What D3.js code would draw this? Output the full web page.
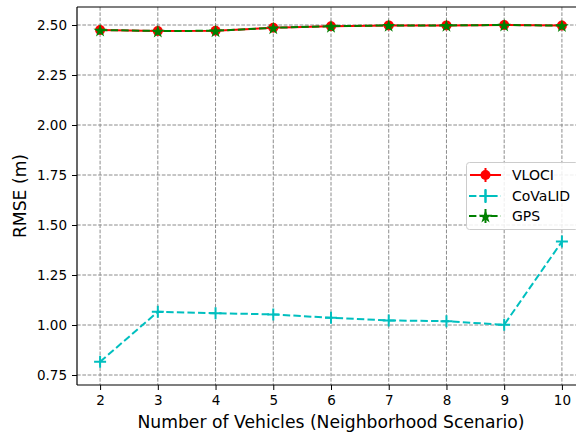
<!DOCTYPE html>
<html><head><meta charset="utf-8">
<script src="https://cdn.jsdelivr.net/npm/d3@7"></script>
<style>
html,body{margin:0;padding:0;background:#fff;overflow:hidden;}
text{font-family:"DejaVu Sans",sans-serif;}
</style></head>
<body><svg id="chart" width="576" height="434"></svg>
<script>
const vehicles = [2, 3, 4, 5, 6, 7, 8, 9, 10];
const vlociValues = [2.475, 2.470, 2.471, 2.486, 2.494, 2.498, 2.498, 2.500, 2.497];
const covalidValues = [0.816, 1.066, 1.059, 1.053, 1.036, 1.023, 1.019, 1.001, 1.417];
const gpsValues = [2.475, 2.470, 2.471, 2.486, 2.494, 2.498, 2.498, 2.500, 2.497];
const yTicks = [0.75, 1.00, 1.25, 1.50, 1.75, 2.00, 2.25, 2.50];
const seriesNames = ["VLOCI", "CoVaLID", "GPS"];

const svg = d3.select("#chart");
const L = 77, R = 585, T = 7, B = 385;
const x = d3.scaleLinear().domain([1.6, 10.4]).range([L, R]);
const y = d3.scaleLinear().domain([0.70, 2.59]).range([B, T]);

// grid
const grid = svg.append("g");
grid.selectAll(".gx").data(vehicles).enter().append("line")
  .attr("x1", d => x(d)).attr("x2", d => x(d)).attr("y1", T).attr("y2", B)
  .attr("stroke", "#8c8c8c").attr("stroke-width", 1).attr("stroke-dasharray", "3.7,1.6");
grid.selectAll(".gy").data(yTicks).enter().append("line")
  .attr("x1", L).attr("x2", R).attr("y1", d => y(d)).attr("y2", d => y(d))
  .attr("stroke", "#8c8c8c").attr("stroke-width", 1).attr("stroke-dasharray", "3.7,1.6");

// axes
const xAxis = d3.axisBottom(x).tickValues(vehicles).tickFormat(d3.format("d")).tickSizeOuter(0).tickSize(5).tickPadding(5);
const yAxis = d3.axisLeft(y).tickValues(yTicks).tickFormat(d3.format(".2f")).tickSizeOuter(0).tickSize(5).tickPadding(5);
const gx = svg.append("g").attr("transform", `translate(0,${B})`).call(xAxis);
const gy = svg.append("g").attr("transform", `translate(${L},0)`).call(yAxis);
[gx, gy].forEach(g => {
  g.selectAll("text").attr("font-size", "13.5px").attr("fill", "#000").style("font-family", "DejaVu Sans");
  g.selectAll("line").attr("stroke", "#000").attr("stroke-width", 1);
  g.select(".domain").remove();
});
// spines
svg.append("line").attr("x1", L).attr("x2", L).attr("y1", T).attr("y2", B).attr("stroke", "#000").attr("stroke-width", 1.2);
svg.append("line").attr("x1", L).attr("x2", R).attr("y1", B).attr("y2", B).attr("stroke", "#000").attr("stroke-width", 1.2);
svg.append("line").attr("x1", L).attr("x2", R).attr("y1", T).attr("y2", T).attr("stroke", "#000").attr("stroke-width", 1.2);

// labels
svg.append("text").attr("x", (L + R) / 2).attr("y", 428).attr("text-anchor", "middle")
  .attr("font-size", "17.2px").text("Number of Vehicles (Neighborhood Scenario)");
svg.append("text").attr("transform", `translate(26,${(T + B) / 2}) rotate(-90)`).attr("text-anchor", "middle")
  .attr("font-size", "17.2px").text("RMSE (m)");

const line = vals => d3.line().x((d, i) => x(vehicles[i])).y(d => y(d))(vals);
const star = d3.symbol().type(d3.symbolStar).size(55);
const plus = (cx, cy, s) => `M${cx - s},${cy}H${cx + s}M${cx},${cy - s}V${cy + s}`;

// VLOCI
svg.append("path").attr("d", line(vlociValues)).attr("fill", "none").attr("stroke", "red").attr("stroke-width", 2);
svg.selectAll(".vm").data(vlociValues).enter().append("circle")
  .attr("cx", (d, i) => x(vehicles[i])).attr("cy", d => y(d)).attr("r", 5).attr("fill", "red");
// CoVaLID
svg.append("path").attr("d", line(covalidValues)).attr("fill", "none").attr("stroke", "#00bfbf")
  .attr("stroke-width", 2).attr("stroke-dasharray", "7.4,3.2");
svg.selectAll(".cm").data(covalidValues).enter().append("path")
  .attr("d", (d, i) => plus(x(vehicles[i]), y(d), 6)).attr("stroke", "#00bfbf").attr("stroke-width", 2).attr("fill", "none");
// GPS
svg.append("path").attr("d", line(gpsValues)).attr("fill", "none").attr("stroke", "green")
  .attr("stroke-width", 2).attr("stroke-dasharray", "7.4,3.2");
svg.selectAll(".gm").data(gpsValues).enter().append("path")
  .attr("transform", (d, i) => `translate(${x(vehicles[i])},${y(d) + 0.8})`).attr("d", star()).attr("fill", "green");

// legend
const lg = svg.append("g");
lg.append("rect").attr("x", 466.5).attr("y", 162.5).attr("width", 112).attr("height", 67).attr("rx", 3)
  .attr("fill", "#fff").attr("fill-opacity", 0.85).attr("stroke", "#ccc").attr("stroke-width", 1);
const rows = [175, 196, 216];
const colors = ["red", "#00bfbf", "green"];
seriesNames.forEach((name, i) => {
  const yy = rows[i];
  const ln = lg.append("line").attr("x1", 470).attr("x2", 501).attr("y1", yy).attr("y2", yy)
    .attr("stroke", colors[i]).attr("stroke-width", 2);
  if (i > 0) ln.attr("stroke-dasharray", "7.4,3.2").attr("x1", 469);
  lg.append("line").attr("x1", 485.5).attr("x2", 485.5).attr("y1", yy - 7).attr("y2", yy + 7)
    .attr("stroke", colors[i]).attr("stroke-width", 2);
  if (i === 0) lg.append("circle").attr("cx", 485.5).attr("cy", yy).attr("r", 5).attr("fill", "red");
  if (i === 1) lg.append("path").attr("d", plus(485.5, yy, 6)).attr("stroke", colors[i]).attr("stroke-width", 2);
  if (i === 2) lg.append("path").attr("transform", `translate(485.5,${yy + 0.8})`).attr("d", star()).attr("fill", "green");
  lg.append("text").attr("x", 512).attr("y", yy + 5).attr("font-size", "14px").text(name);
});
</script></body></html>
